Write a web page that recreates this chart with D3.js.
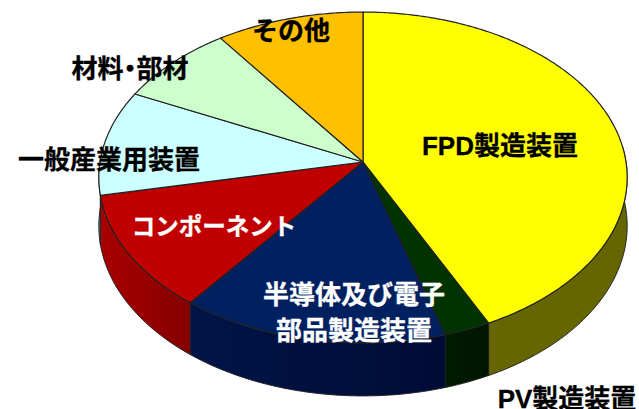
<!DOCTYPE html>
<html lang="ja">
<head>
<meta charset="utf-8">
<script src="https://cdn.jsdelivr.net/npm/d3@7.9.0/dist/d3.min.js"></script>
<style>
  html, body { margin: 0; padding: 0; background: #fff; overflow: hidden; }
  svg { display: block; }
  text { font-family: "Liberation Sans", "Noto Sans CJK JP", sans-serif; font-weight: 700; font-size: 26px; stroke-width: 0.3px; }
</style>
</head>
<body>
<svg id="chart" width="639" height="409"></svg>
<script>
// Shares (%), clockwise from 12 o'clock
const categories = ['FPD製造装置', 'PV製造装置', '半導体及び電子部品製造装置', 'コンポーネント', '一般産業用装置', '材料・部材', 'その他'];
const shares = [42.8, 2.6, 15.0, 11.4, 10.3, 8.0, 9.9];

const topColors = ['#ffff00', '#003300', '#002060', '#c00000', '#ccffff', '#ccffcc', '#ffc000'];
const wallLight = ['#666600', '#001c00', '#001448', '#a80000', '#517f7f', '#668066', '#7f6000'];
const wallDark = ['#666600', '#001600', '#000c36', '#860000', '#517f7f', '#668066', '#7f6000'];

// Label placement, the names wrap by hand like the original
const labels = [
  { lines: ['FPD製造装置'], x: 500, y: 155, fill: '#000' },
  { lines: ['PV製造装置'], x: 567, y: 408, fill: '#000' },
  { lines: ['半導体及び電子', '部品製造装置'], x: 354, y: 304, fill: '#fff' },
  { lines: ['コンポーネント'], x: 214, y: 235, fill: '#fff', size: 23.5 },
  { lines: ['一般産業用装置'], x: 109, y: 169, fill: '#000' },
  { lines: ['材料・部材'], x: 130, y: 78, fill: '#000', palt: true },
  { lines: ['その他'], x: 291, y: 40, fill: '#000' }
];

const svg = d3.select('#chart');

// Pie is drawn in perspective: centre of the circle lands above the middle of the ellipse
const cx = 363, cy = 162;
const radiusX = 263, radiusY = 164;
const tilt = 0.0937;
const depth = 48;

const xScale = d3.scaleLinear().domain([-1, 1]).range([cx - radiusX, cx + radiusX]);
const yScale = d3.scaleLinear().domain([-1, 1]).range([cy - radiusY, cy + radiusY]);

// angle in radians clockwise from the top, r 0..1, h 0 on the top face and 1 on the base
function project(angle, r, h) {
  const u = r * Math.sin(angle);
  const v = -r * Math.cos(angle);
  const w = 1 - tilt * v;
  return [xScale(u / w), yScale(v / w) + h * depth / w];
}

const pieGen = d3.pie().value(d => d).sort(null);
const arcs = pieGen(shares);
const line = d3.line();

function arcAngles(a0, a1) {
  const n = Math.max(2, Math.ceil((a1 - a0) / 0.01));
  return d3.range(n + 1).map(i => a0 + (a1 - a0) * i / n);
}

// Side walls, only the part that faces the viewer
const wallFrom = Math.PI / 2 - 0.1;
const wallTo = Math.PI * 1.5 + 0.1;
const visible = arcs.filter(d => d.endAngle > wallFrom && d.startAngle < wallTo);

// Each wall shades a little from left to right
const defs = svg.append('defs');
const grads = defs.selectAll('linearGradient')
  .data(visible)
  .join('linearGradient')
  .attr('id', d => `wall-${d.index}`);
grads.append('stop').attr('offset', '0%').attr('stop-color', d => wallLight[d.index]);
grads.append('stop').attr('offset', '100%').attr('stop-color', d => wallDark[d.index]);

svg.append('g').selectAll('path')
  .data(visible)
  .join('path')
  .attr('d', d => {
    const angles = arcAngles(Math.max(d.startAngle, wallFrom), Math.min(d.endAngle, wallTo));
    const top = angles.map(a => project(a, 1, 0));
    const base = angles.slice().reverse().map(a => project(a, 1, 1));
    return line(top.concat(base)) + 'Z';
  })
  .attr('fill', d => `url(#wall-${d.index})`)
  .attr('stroke', '#222')
  .attr('stroke-width', 1);

// Top face
svg.append('g').selectAll('path')
  .data(arcs)
  .join('path')
  .attr('d', d => {
    const rim = arcAngles(d.startAngle, d.endAngle).map(a => project(a, 1, 0));
    return line([project(0, 0, 0)].concat(rim)) + 'Z';
  })
  .attr('fill', d => topColors[d.index])
  .attr('stroke', '#222')
  .attr('stroke-width', 1.2)
  .attr('stroke-linejoin', 'round');

// Labels
const lineHeight = 36;
svg.append('g').selectAll('text')
  .data(labels.flatMap(l => l.lines.map((t, i) => ({ ...l, t, y: l.y + i * lineHeight }))))
  .join('text')
  .attr('x', d => d.x)
  .attr('y', d => d.y)
  .attr('text-anchor', 'middle')
  .attr('fill', d => d.fill)
  .attr('stroke', d => d.fill)
  .style('font-size', d => d.size ? `${d.size}px` : null)
  .style('font-feature-settings', d => d.palt ? '"palt"' : null)
  .text(d => d.t);
</script>
</body>
</html>
